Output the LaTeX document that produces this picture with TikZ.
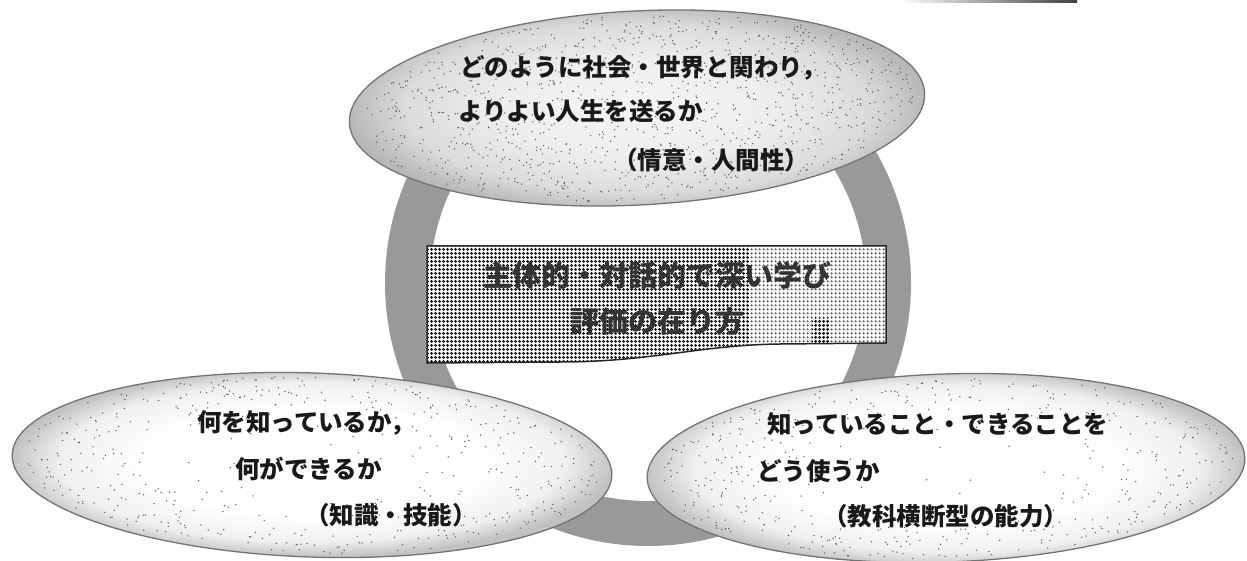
\documentclass[tikz,border=0pt]{standalone}
\usepackage{fontspec}
\newfontfamily\jp{Noto Sans CJK JP}
\usetikzlibrary{shapes.geometric,patterns.meta}
\pgfdeclareradialshading{ellshade}{\pgfpoint{0bp}{0bp}}{color(0bp)=(white); color(14bp)=(white); color(21bp)=(black!6); color(25bp)=(black!24); color(50bp)=(black!24)}
\pgfdeclareradialshading{ellshadetop}{\pgfpoint{0bp}{0bp}}{color(0bp)=(black!4); color(12bp)=(black!7); color(20bp)=(black!14); color(25bp)=(black!28); color(50bp)=(black!28)}
\tikzset{
  bubble/.style={ellipse, draw=black!55, line width=1.3pt, shade, shading=ellshade, inner sep=0pt},
  bubbletop/.style={bubble, shading=ellshadetop},
  lbl/.style={font=\jp\bfseries\fontsize{24.5}{24.5}\selectfont, text=black!90, inner sep=0pt, anchor=west},
  boxtext/.style={font=\jp\bfseries\fontsize{29}{29}\selectfont, text=black!80, inner sep=0pt},
  ringfill/.style={fill=black!40, even odd rule},
  boxedge/.style={draw=black!85, line width=1.5pt},
  speck/.style={fill=black!65},
}
% speckle texture inside an ellipse: #1 cx, #2 cy, #3 rx, #4 ry, #5 count, #6 exponent
\newcommand{\specklefill}[6]{%
  \foreach \k in {1,...,#5}{%
    \pgfmathsetmacro\th{rnd*360}%
    \pgfmathsetmacro\rr{0.96*rnd^#6}%
    \fill[speck] ({#1+#3*\rr*cos(\th)},{#2+#4*\rr*sin(\th)}) circle[radius=0.75];
  }%
}
\begin{document}
\begin{tikzpicture}[x=1pt,y=-1pt]
\pgfmathsetseed{11}
\useasboundingbox (0,0) rectangle (1247,561);
% top bar fragment
\shade[left color=white, right color=black!75] (900,0) rectangle (1077,2.5);
% ring
\fill[ringfill] (648,283) circle[radius=263] (648,283) circle[radius=218];
% central box
\def\boxpath{(427,246) -- (886,246) -- (886,343) -- (780,344) .. controls (700,345) and (650,362) .. (560,362) -- (427,363) -- cycle}
\begin{scope}
  \clip \boxpath;
  \fill[white] (427,246) rectangle (886,364);
  \fill[pattern={Dots[distance=4pt,radius=1.9pt]}, pattern color=black!90] (427,246) rectangle (749,364);
  \fill[pattern={Dots[distance=4pt,radius=1.45pt]}, pattern color=black!65] (749,246) rectangle (886,364);
  \fill[pattern={Dots[distance=4pt,radius=1.9pt]}, pattern color=black!90] (812,318) rectangle (830,344);
\end{scope}
\draw[boxedge] \boxpath;
% ellipses
\node[bubbletop, minimum width=576pt, minimum height=194pt, rotate=3] (topell) at (637,108) {};
\begin{scope}[rotate around={3:(637,108)}]
  \specklefill{637}{108}{288}{97}{1100}{0.45}
\end{scope}
\node[bubble, minimum width=600pt, minimum height=184pt, rotate=-2] (leftell) at (312,465) {};
\begin{scope}[rotate around={-2:(312,465)}]
  \specklefill{312}{465}{300}{92}{500}{0.25}
\end{scope}
\node[bubble, minimum width=598pt, minimum height=188pt, rotate=2] (rightell) at (946,468) {};
\begin{scope}[rotate around={2:(946,468)}]
  \specklefill{946}{468}{299}{94}{500}{0.25}
\end{scope}
% texts
\node[lbl] (t1) at (460,68) {どのように社会・世界と関わり，};
\node[lbl] (t2) at (458,111) {よりよい人生を送るか};
\node[lbl] (t3) at (613,160) {（情意・人間性）};
\node[lbl] (l1) at (197,423) {何を知っているか，};
\node[lbl] (l2) at (235,469) {何ができるか};
\node[lbl] (l3) at (305,515) {（知識・技能）};
\node[lbl] (r1) at (767,424) {知っていること・できることを};
\node[lbl] (r2) at (757,471) {どう使うか};
\node[lbl] (r3) at (823,516) {（教科横断型の能力）};
\node[boxtext] (b1) at (657,275) {主体的・対話的で深い学び};
\node[boxtext] (b2) at (657,322) {評価の在り方};
\end{tikzpicture}
\end{document}
